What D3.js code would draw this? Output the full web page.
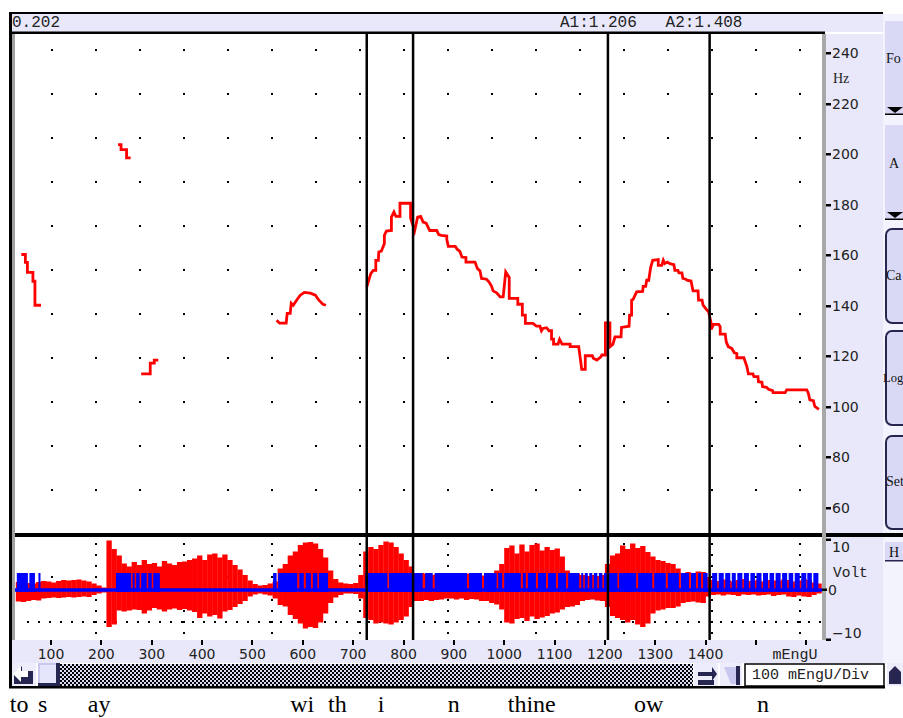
<!DOCTYPE html>
<html><head><meta charset="utf-8">
<script src="https://cdn.jsdelivr.net/npm/d3@7"></script>
<style>body{margin:0;background:#fff;}svg{display:block}</style>
</head><body>
<svg id="c" width="903" height="718"></svg>
<script>
// ---------- DATA ----------
// pitch contour segments: [time (mEngU), F0 (Hz)]
const pitchSeg1 = [[41,160.2],[49,160.2],[49,157.1],[53,157.1],[53,153.1],[64,153.1],[64,149.6],[68,149.6],[68,140.1],[80,140.1]];
const pitchSeg2 = [[233,203.7],[239,203.7],[239,201.7],[250,201.7],[250,198.5],[258,198.5]];
const pitchSeg3 = [[279,112.9],[297,112.9],[297,117.2],[305,117.2],[305,118.4],[313,118.4]];
const pitchSeg4 = [[548,134.2],[554,133.0],[567,133.0],[569,136.9],[575,136.9],[577,140.9],[581,140.1],[589,142.5],[595,144.1],[603,145.2],[615,144.9],[625,144.1],[632,142.1],[640,140.5],[646,140.1]];
const pitchSeg5 = [[727,147.3],[735,152.6],[740,153.9],[745,153.9],[745,157.9],[750,157.9],[751,161.2],[756,161.5],[762,164.5],[762,167.8],[766,169.5],[776,169.7],[776,175.0],[781,177.0],[785,175.3],[793,175.3],[793,180.5],[814,180.5],[814,174.7],[822,169.5],[828,175.0],[834,175.3],
[839,173.0],[845,172.6],[852,169.7],[866,169.7],[870,168.1],[875,167.8],[886,167.5],[886,166.1],[889,163.4],[903,163.4],[907,162.2],[912,161.4],[916,159.2],[924,159.0],[924,157.2],[942,157.2],[947,154.6],[952,153.7],[955,150.7],[965,150.4],[970,149.3],[975,147.6],[978,145.8],[985,145.0],[992,143.4],[998,143.4],[1003,153.3],[1010,151.1],[1010,142.8],[1027,142.8],[1027,140.5],[1036,140.5],[1036,136.2],[1042,136.2],[1042,132.9],[1057,132.9],[1064,131.8],[1071,131.8],[1074,130.0],[1077,130.9],[1084,131.2],[1089,130.0],[1094,130.0],[1094,126.7],[1098,126.7],[1098,124.7],[1107,124.7],[1110,126.6],
[1115,124.7],[1131,124.7],[1131,123.7],[1148,123.7],[1154,114.7],[1161,114.7],[1161,120.1],[1175,120.1],[1177,119.1],[1184,118.4],[1192,119.7],[1194,120.4],[1201,120.4],[1201,133.1],[1210,133.1],[1210,123.7],[1216,124.7],[1220,127.6],[1232,127.6],[1233,131.3],[1248,131.8],[1249,136.2],[1253,136.2],[1253,142.1],[1256,142.4],[1263,145.4],[1275,145.6],[1276,147.6],[1281,147.6],[1283,150.0],[1287,150.0],[1291,155.2],[1295,157.9],[1306,158.2],[1306,155.9],[1313,155.9],[1316,157.9],[1319,156.6],[1324,157.2],[1329,156.6],[1337,156.2],[1339,153.9],[1345,153.9],[1347,152.9],[1353,152.9],[1355,150.7],[1361,150.4],[1363,150.0],[1371,149.7],[1375,145.8],[1385,145.8],[1386,142.1],
[1393,142.1],[1395,140.1],[1403,138.1],[1406,137.5],[1411,132.9],[1411,130.5],[1416,132.5],[1426,132.5],[1429,131.6],[1429,128.7],[1439,128.7],[1441,125.6],[1445,123.7],[1452,123.0],[1457,121.3],[1462,121.0],[1462,119.3],[1476,119.3],[1482,115.8],[1485,112.9],[1494,112.9],[1496,111.8],[1504,111.8],[1505,109.8],[1512,109.6],[1513,107.9],[1521,107.6],[1525,106.8],[1533,106.3],[1534,105.5],[1558,105.5],[1561,106.6],[1601,106.6],[1604,105.3],[1607,102.6],[1614,102.3],[1617,100.0],[1625,98.9]];
const pitchSegments = [pitchSeg1, pitchSeg2, pitchSeg3, pitchSeg4, pitchSeg5];

// waveform envelope (Volt), bins of envStep mEngU starting at envStart
const envStart = 30, envStep = 10;
const envTop = [1.6,1.5,1.4,1.3,1.6,1.8,1.7,1.5,1.8,2.0,
1.9,2.0,2.1,1.9,1.7,1.3,0.9,0.5,9.9,8.2,
6.9,5.3,4.7,5.6,5.0,6.0,5.2,5.4,4.7,5.8,
5.3,5.0,5.6,5.7,6.0,6.3,6.9,6.0,7.1,7.3,
6.5,7.1,6.0,5.0,4.1,3.0,1.9,1.2,0.9,1.0,
1.3,1.7,4.3,5.2,6.9,7.7,9.0,9.5,9.6,9.3,
8.2,6.5,3.9,2.2,1.5,1.3,1.2,1.4,3.0,7.7,
8.6,8.2,9.0,9.7,9.5,8.6,7.3,6.0,4.7,3.3,
3.4,3.3,3.0,3.1,2.9,2.8,3.0,2.9,3.1,3.3,
3.0,3.1,2.9,3.3,3.4,3.9,5.2,8.4,8.9,7.3,
9.1,7.7,9.0,9.3,7.9,8.6,8.0,8.3,6.7,3.9,
3.4,3.3,3.0,2.8,3.0,2.8,3.0,5.2,6.9,7.3,
8.9,8.2,9.3,8.4,8.8,7.6,6.7,6.0,5.8,5.4,
5.2,4.3,3.4,3.6,3.4,3.7,3.6,2.6,2.0,1.8,
2.1,1.9,1.7,2.0,2.2,1.8,1.9,2.1,1.7,2.0,
1.9,1.8,2.1,2.0,1.7,1.9,2.2,2.0,1.5,1.3];
const envBottom = [-2.3,-2.4,-2.2,-2.0,-2.1,-1.7,-1.6,-1.5,-1.6,-1.5,
-1.4,-1.5,-1.4,-1.3,-1.4,-1.0,-0.7,-0.5,-7.4,-6.9,
-4.1,-4.3,-4.1,-3.9,-4.0,-4.7,-4.1,-3.6,-3.9,-4.3,
-3.9,-3.7,-4.0,-3.8,-4.1,-4.4,-5.6,-4.7,-5.3,-5.0,
-5.7,-4.3,-4.0,-3.4,-2.8,-2.2,-1.3,-0.9,-0.7,-0.9,
-1.1,-1.7,-3.0,-3.3,-5.0,-5.8,-6.7,-7.7,-7.4,-7.6,
-6.5,-4.7,-2.6,-1.5,-1.0,-0.7,-0.7,-0.8,-1.7,-5.6,
-6.0,-6.7,-6.5,-6.7,-6.9,-6.5,-6.0,-5.3,-3.4,-2.2,
-2.2,-2.0,-2.2,-2.0,-1.9,-1.7,-1.7,-1.9,-1.7,-2.0,
-1.8,-1.9,-2.2,-2.2,-2.6,-2.9,-3.9,-6.5,-6.7,-5.8,
-5.6,-6.2,-5.3,-5.8,-5.5,-5.2,-4.7,-4.5,-3.9,-3.4,
-3.3,-3.0,-2.2,-2.0,-1.9,-2.1,-2.2,-3.4,-5.2,-5.6,
-6.0,-6.5,-6.0,-6.9,-7.4,-6.7,-4.7,-4.1,-3.9,-3.6,
-3.6,-3.3,-2.6,-2.4,-2.3,-2.5,-2.6,-1.3,-1.0,-0.9,
-1.1,-0.9,-1.0,-1.2,-0.9,-1.0,-0.9,-1.1,-1.0,-0.9,
-1.2,-1.0,-0.9,-1.3,-1.4,-1.1,-1.3,-1.4,-1.0,-0.7];

// voicing pulse train: [start, end] in mEngU, level pulseHigh..pulseLow Volt
const pulseHigh = 3.4, pulseLow = -0.4;
const pulses = [[32,54],[57,68],[75,79],
[229,259],[262,266],[269,276],[279,290],[293,300],[303,316],
[541,548],[551,589],[593,602],[606,616],[620,629],[632,650],
[724,768],[771,817],
[821,838],[843,858],[862,926],[930,956],[960,985],[988,996],[1000,1033],[1037,1043],[1047,1063],[1067,1083],[1087,1103],[1107,1123],[1127,1149],[1153,1157],[1160,1166],[1169,1175],[1178,1185],[1188,1195],[1198,1204],
[1208,1225],[1228,1262],[1266,1294],[1298,1321],[1325,1347],[1351,1367],[1371,1381],[1385,1391],[1395,1404],
[1413,1423],[1426,1436],[1439,1449],[1452,1460],[1463,1473],[1476,1486],[1489,1498],[1501,1511],[1514,1524],[1527,1536],[1539,1549],[1552,1562],[1565,1574],[1577,1587],[1590,1600],[1602,1611],[1614,1624]];

const cursorTimes = [727, 819, 1206, 1408];
const xTickValues = [100,200,300,400,500,600,700,800,900,1000,1100,1200,1300,1400,1500,1600];
const xTickLabels = ["100","200","300","400","500","600","700","800","900","1000","1100","1200","1300","1400","",""];
const hzTicks = [240,220,200,180,160,140,120,100,80,60];
const voltTicks = [10,0,-10];
const voltLabels = ["10","0","\u221210"];
const words = [["to",18],["s",74],["ay",173],["wi",575],["th",650],["i",749],["n",888],["thine",1007],["ow",1258],["n",1502]];

// ---------- DRAW ----------
const svg = d3.select('#c');
const LAV = '#e8e8fa', BTN = '#d9d9f6', NAVY = '#262650';
const x = d3.scaleLinear().domain([0,1600]).range([0.7,806.3]);
const yHz = d3.scaleLinear().domain([60,240]).range([507.5,53]);
const yV = d3.scaleLinear().domain([-10,10]).range([640,540]);

const defs = svg.append('defs');
defs.append('clipPath').attr('id','clipTop').append('rect').attr('x',15).attr('y',34).attr('width',807).attr('height',499);
defs.append('clipPath').attr('id','clipBot').append('rect').attr('x',15).attr('y',537).attr('width',807).attr('height',103);
const pat = defs.append('pattern').attr('id','chk').attr('width',4).attr('height',4).attr('patternUnits','userSpaceOnUse');
pat.append('rect').attr('width',4).attr('height',4).attr('fill','#dcdcf6');
pat.append('rect').attr('width',2).attr('height',2).attr('fill','#000');
pat.append('rect').attr('x',2).attr('y',2).attr('width',2).attr('height',2).attr('fill','#000');

function rect(g,x0,y0,w,h,fill){return g.append('rect').attr('x',x0).attr('y',y0).attr('width',w).attr('height',h).attr('fill',fill);}

// backgrounds
rect(svg,883,14,20,650,'#f3f3fd');
rect(svg,12,14,871,18,LAV);
rect(svg,826,34,57,606,LAV);
rect(svg,12,640,871,23,LAV);
rect(svg,15,34,807,499,'#fff');
rect(svg,15,537,807,103,'#fff');

// grid dots upper
const gGrid = svg.append('g');
d3.range(52,801,44).forEach(gx=>d3.range(50,491,44).forEach(gy=>rect(gGrid,gx-1,gy-1,2,2,'#000')));
// grid dots lower
const gGridB = svg.append('g');
d3.range(96,801,88).forEach(gx=>d3.range(0,9).forEach(k=>rect(gGridB,gx-1,Math.round(544+k*11.1)-1,2,2,'#000')));
d3.range(28,822,11).forEach(gx=>rect(gGridB,gx-1,621,2,2,'#000'));
d3.range(52,801,44).forEach(gx=>rect(gGridB,gx-1,576,2,2,'#000'));

// pitch
const line = d3.line().x(d=>x(d[0])).y(d=>yHz(d[1]));
svg.append('g').attr('clip-path','url(#clipTop)').selectAll('path').data(pitchSegments).join('path')
  .attr('d',line).attr('fill','none').attr('stroke','#ff0000').attr('stroke-width',2.8).attr('stroke-linejoin','miter');

// waveform
const gW = svg.append('g').attr('clip-path','url(#clipBot)');
gW.selectAll('rect.env').data(envTop).join('rect').attr('class','env')
  .attr('x',(d,i)=>x(envStart+i*envStep)).attr('width',(d,i)=>x(envStart+(i+1)*envStep)-x(envStart+i*envStep)+0.3)
  .attr('y',d=>yV(d)).attr('height',(d,i)=>yV(envBottom[i])-yV(d)).attr('fill','#ff0000');
gW.append('line').attr('x1',15).attr('x2',822).attr('y1',yV(0)).attr('y2',yV(0)).attr('stroke','#0000ff').attr('stroke-width',3.5);
gW.selectAll('rect.pulse').data(pulses).join('rect').attr('class','pulse')
  .attr('x',d=>x(d[0])).attr('width',d=>x(d[1])-x(d[0]))
  .attr('y',yV(pulseHigh)).attr('height',yV(pulseLow)-yV(pulseHigh)).attr('fill','#0000ff');

// cursors
svg.append('g').selectAll('line').data(cursorTimes).join('line')
  .attr('x1',d=>x(d)).attr('x2',d=>x(d)).attr('y1',34).attr('y2',640).attr('stroke','#000').attr('stroke-width',2.5);

// borders
rect(svg,9,12,874,2,'#000');
rect(svg,12,31.5,813,2.5,'#000');
rect(svg,12,533,891,4,'#000');
rect(svg,9,12,3,676,'#000');
rect(svg,12,34,3,606,'#a0a0a0');
rect(svg,822,34,4,606,'#a8a8a8');
rect(svg,9,686,876,2.5,'#000');

// title texts
svg.append('text').attr('x',12).attr('y',27).attr('font-family','Liberation Mono').attr('font-size',16).attr('fill','#222').text('0.202');
svg.append('text').attr('x',560).attr('y',27).attr('font-family','Liberation Mono').attr('font-size',16).attr('fill','#222').attr('xml:space','preserve').style('white-space','pre').text('A1:1.206   A2:1.408');

// right Hz axis
const gA = svg.append('g');
hzTicks.forEach(v=>{
  rect(gA,826,Math.round(yHz(v))-1,5,2.5,'#000');
  gA.append('text').attr('x',832).attr('y',yHz(v)).attr('dy','0.36em').attr('font-family','DejaVu Sans').attr('font-size',14).attr('fill','#222').text(v);
});
gA.append('text').attr('x',833).attr('y',83).attr('font-family','Liberation Serif').attr('font-size',14).attr('fill','#222').text('Hz');

// right Volt axis
voltTicks.forEach((v,i)=>{
  const ty = yV(v);
  const off = v===0?-4:0;
  rect(gA,826+off,Math.round(ty)-1.5,5,2.5,'#000');
  const ly = v>0? ty+7 : (v<0? ty-7 : ty);
  gA.append('text').attr('x',v===0?828:832).attr('y',ly).attr('dy','0.36em').attr('font-family','DejaVu Sans').attr('font-size',14).attr('fill','#222').text(voltLabels[i]);
});
gA.append('text').attr('x',833).attr('y',577).attr('font-family','Liberation Mono').attr('font-size',14.5).attr('fill','#222').text('Volt');

// x axis
xTickValues.forEach((v,i)=>{
  rect(gA,Math.round(x(v))-1,640,2,5,'#000');
  if(xTickLabels[i]) gA.append('text').attr('x',x(v)).attr('y',659).attr('text-anchor','middle').attr('font-family','DejaVu Sans').attr('font-size',14).attr('fill','#222').text(xTickLabels[i]);
});
gA.append('text').attr('x',795).attr('y',659).attr('text-anchor','middle').attr('font-family','Liberation Mono').attr('font-size',15).attr('fill','#222').text('mEngU');

// scrollbar row
const gS = svg.append('g');
rect(gS,12,663,24,23,'#ececfb');
gS.append('path').attr('d','M14,674 L22,666 L22,671 L33,671 L33,684 L14,684 Z').attr('fill',NAVY);
gS.append('path').attr('d','M13,674 L21,666 L21,671 L28,671 L28,677 L21,677 L21,682 Z').attr('fill','#fff');
rect(gS,38,663,22,23,'#c8c8ee');
rect(gS,40,665,16,18,'#e4e4fb');
rect(gS,56,663,4,23,NAVY);
rect(gS,38,683,22,3,NAVY);
rect(gS,60,664,633,22,'url(#chk)');
rect(gS,694,663,24,23,'#ececfb');
gS.append('path').attr('d','M698,672 L712,672 L712,667 L717,674 L712,681 L712,676 L698,676 Z').attr('fill',NAVY);
rect(gS,698,680,16,5,NAVY);
rect(gS,720,663,22,23,'#ececfb');
gS.append('path').attr('d','M724,667 L738,667 L738,684 L731,684 Z').attr('fill','#c8c8ee');
rect(gS,736,666,4,19,NAVY);
rect(gS,745,664,139,22,'#fff').attr('stroke','#000').attr('stroke-width',1.5);
gS.append('text').attr('x',752).attr('y',679).attr('font-family','Liberation Mono').attr('font-size',15).attr('fill','#222').text('100 mEngU/Div');
rect(gS,887,663,16,23,'#ececfb');
gS.append('path').attr('d','M889,684 L889,672 L895,666 L901,672 L901,684 Z').attr('fill',NAVY);

// side buttons
const gB = svg.append('g');
function flatBtn(y0,y1,label,lx,ly,fs){
  rect(gB,885,y0,20,y1-y0,BTN);
  gB.append('path').attr('d',`M887,${y1-8} L903,${y1-8} L895,${y1-2} Z`).attr('fill','#000');
  rect(gB,885,y1-1.5,20,1.5,'#000');
  gB.append('text').attr('x',lx).attr('y',ly).attr('font-family','Liberation Serif').attr('font-size',fs).attr('fill','#111').text(label);
}
function roundBtn(y0,y1,label,lx,ly,fs){
  gB.append('rect').attr('x',886).attr('y',y0).attr('width',30).attr('height',y1-y0).attr('rx',6).attr('fill',BTN).attr('stroke',NAVY).attr('stroke-width',2);
  gB.append('text').attr('x',lx).attr('y',ly).attr('font-family','Liberation Serif').attr('font-size',fs).attr('fill','#111').text(label);
}
flatBtn(21,115,'Fo',886,63,14);
flatBtn(125,220,'A',889,168,14);
roundBtn(229,323,'Ca',886,280,14);
roundBtn(331,425,'Log',883,382,12.5);
roundBtn(436,529,'Set',886,486,14);
rect(gB,885,542,20,19,BTN);
rect(gB,885,560,20,1.5,NAVY);
gB.append('text').attr('x',889).attr('y',557).attr('font-family','Liberation Serif').attr('font-size',14).attr('fill','#111').text('H');

// transcription
svg.append('g').selectAll('text').data(words).join('text')
  .attr('x',d=>x(d[1])).attr('y',712).attr('font-family','Liberation Serif').attr('font-size',24).attr('fill','#000').text(d=>d[0]);
</script>
</body></html>
